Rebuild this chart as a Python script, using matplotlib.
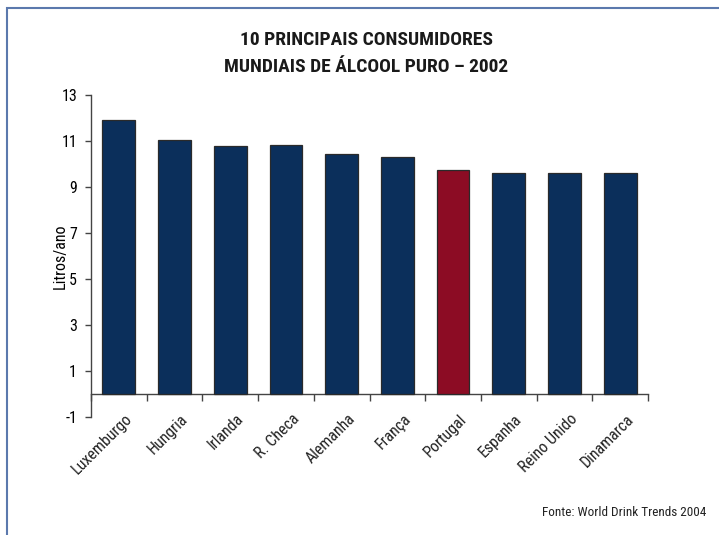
import matplotlib.pyplot as plt
from matplotlib.patches import Rectangle
from matplotlib import font_manager

# a condensed sans is closest to the original face
cands = ['Liberation Sans Narrow', 'Roboto Condensed', 'Open Sans Condensed', 'DejaVu Sans']
names = {f.name for f in font_manager.fontManager.ttflist}
fam = [c for c in cands if c in names][0]
plt.rcParams['font.family'] = [fam, 'DejaVu Sans']
plt.rcParams['font.stretch'] = 'condensed'

countries = ['Luxemburgo', 'Hungria', 'Irlanda', 'R. Checa', 'Alemanha',
             'França', 'Portugal', 'Espanha', 'Reino Unido', 'Dinamarca']
litros = [11.9, 11.03, 10.79, 10.83, 10.43, 10.3, 9.75, 9.63, 9.63, 9.59]
yticks = [-1, 1, 3, 5, 7, 9, 11, 13]

navy = '#0b2f5b'
red = '#8c0c24'
colors = [red if c == 'Portugal' else navy for c in countries]

fig = plt.figure(figsize=(7.19, 5.35), dpi=100)
# frame round the chart (runs off right and bottom edges)
fig.patches.append(Rectangle((7/719, -0.1), 1.0, 1 - 8/535 + 0.1, transform=fig.transFigure,
                             fill=False, edgecolor='#5b79ad', linewidth=1.5))

ax = fig.add_axes([91/719, 1-417/535, (648-91)/719, (417-95)/535])
x = range(len(countries))
ax.bar(x, litros, width=0.59, color=colors, edgecolor='#2a2a2a', linewidth=0.9, zorder=3)

ax.set_xlim(-0.5, len(countries) - 0.5)
ax.set_ylim(-1, 13)
ax.set_yticks(yticks)
ax.set_yticklabels([str(v) for v in yticks], fontsize=11.5)
ax.tick_params(axis='y', length=4, width=1, color='#444444', pad=6)

ax.spines['top'].set_visible(False)
ax.spines['right'].set_visible(False)
ax.spines['bottom'].set_position(('data', 0))
ax.spines['left'].set_color('#444444')
ax.spines['bottom'].set_color('#444444')
ax.spines['left'].set_linewidth(1)
ax.spines['bottom'].set_linewidth(1)

# ticks between categories, labels placed under the -1 line
ax.set_xticks([i - 0.5 for i in range(len(countries) + 1)])
ax.set_xticklabels([])
ax.tick_params(axis='x', length=5, width=1, color='#444444', direction='out')
for i, c in enumerate(countries):
    ax.text(i + 0.1, -0.75, c, rotation=45, rotation_mode='anchor', ha='right', va='top',
            fontsize=11.5, color='#222222')

ax.set_ylabel('Litros/ano', fontsize=11.5)
ax.yaxis.set_label_coords(-0.041, 0.5)

fig.text(366/719, 1-40/535, '10 PRINCIPAIS CONSUMIDORES', ha='center', va='center',
         fontsize=14, fontweight='bold', color='#1a1a1a')
fig.text(366/719, 1-67/535, 'MUNDIAIS DE ÁLCOOL PURO – 2002', ha='center', va='center',
         fontsize=14, fontweight='bold', color='#1a1a1a')
fig.text(706/719, 1-512/535, 'Fonte: World Drink Trends 2004', ha='right', va='center',
         fontsize=9.5, color='#222222')

fig.savefig('out.png', dpi=100)
